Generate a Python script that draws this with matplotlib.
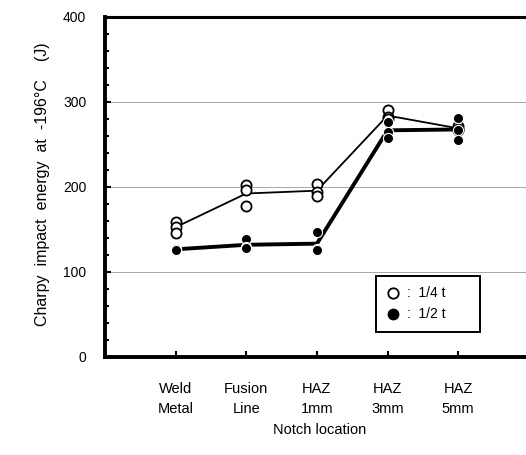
import matplotlib
matplotlib.use("Agg")
import matplotlib.pyplot as plt
import numpy as np

# notch locations and measured Charpy energies (J) at -196 C
locations = ["Weld\nMetal", "Fusion\nLine", "HAZ\n1mm", "HAZ\n3mm", "HAZ\n5mm"]
quarter_t = [
    [159, 153, 146],
    [202, 197, 178],
    [204, 194, 189],
    [290, 282, 280],
    [272, 268, 267],
]
half_t = [
    [127, 127, 126],
    [139, 129, 128],
    [147, 127, 126],
    [277, 265, 258],
    [281, 267, 255],
]


def main():
    plt.rcParams["font.family"] = ["Liberation Sans", "DejaVu Sans"]
    fig = plt.figure(figsize=(5.26, 4.55), dpi=100)
    ax = fig.add_axes([0.1996, 0.2154, 0.8004, 0.7473])

    x = np.arange(1, len(locations) + 1)

    # grid lines
    for g in [100, 200, 300]:
        ax.axhline(g, color="#999999", lw=0.6, zorder=1)

    q_mean = [np.mean(v) for v in quarter_t]
    h_mean = [np.mean(v) for v in half_t]
    ax.plot(x, q_mean, color="black", lw=1.3, zorder=2)
    ax.plot(x, h_mean, color="black", lw=2.8, zorder=2)

    for xi, vals in zip(x, quarter_t):
        ax.plot([xi] * len(vals), vals, "o", ms=7.3, mfc="white", mec="black",
                mew=1.3, ls="none", zorder=3)
    for xi, vals in zip(x, half_t):
        ax.plot([xi] * len(vals), vals, "o", ms=7.3, mfc="black", mec="white",
                mew=0.8, ls="none", zorder=4)

    ax.set_xlim(0, 5.96)
    ax.set_ylim(0, 400)
    ax.set_xticks(x)
    ax.set_xticklabels(locations, fontsize=10.5, linespacing=1.55)
    ax.set_yticks([0, 100, 200, 300, 400])
    ax.set_yticks(np.arange(0, 401, 20), minor=True)
    ax.tick_params(axis="x", direction="in", length=4, width=1.5, pad=18)
    ax.tick_params(axis="y", which="major", direction="in", length=4,
                   width=1.5, pad=13.5, labelsize=10)
    ax.tick_params(axis="y", which="minor", direction="in", length=3, width=1.5)

    ax.spines["right"].set_visible(False)
    ax.spines["left"].set_linewidth(2.8)
    ax.spines["bottom"].set_linewidth(2.8)
    ax.spines["top"].set_linewidth(2.2)

    ax.set_ylabel("Charpy  impact  energy  at  -196°C    (J)", fontsize=11.5)
    ax.yaxis.set_label_coords(-0.131, 0.509)
    ax.set_xlabel("Notch location", fontsize=10.5)
    ax.xaxis.set_label_coords(0.51, -0.195)

    h1, = ax.plot([], [], "o", ms=7.5, mfc="white", mec="black", mew=1.3)
    h2, = ax.plot([], [], "o", ms=7.5, mfc="black", mec="black")
    leg = ax.legend([h1, h2], [":  1/4 t      ", ":  1/2 t      "],
                    loc="upper left", bbox_to_anchor=(0.644, 0.238),
                    fontsize=10, fancybox=False, framealpha=1,
                    edgecolor="black", borderaxespad=0, handletextpad=0.5,
                    labelspacing=0.5, borderpad=0.75, handlelength=1.0)
    leg.get_frame().set_linewidth(1.4)

    fig.savefig("out.png", dpi=100)


if __name__ == "__main__":
    main()
